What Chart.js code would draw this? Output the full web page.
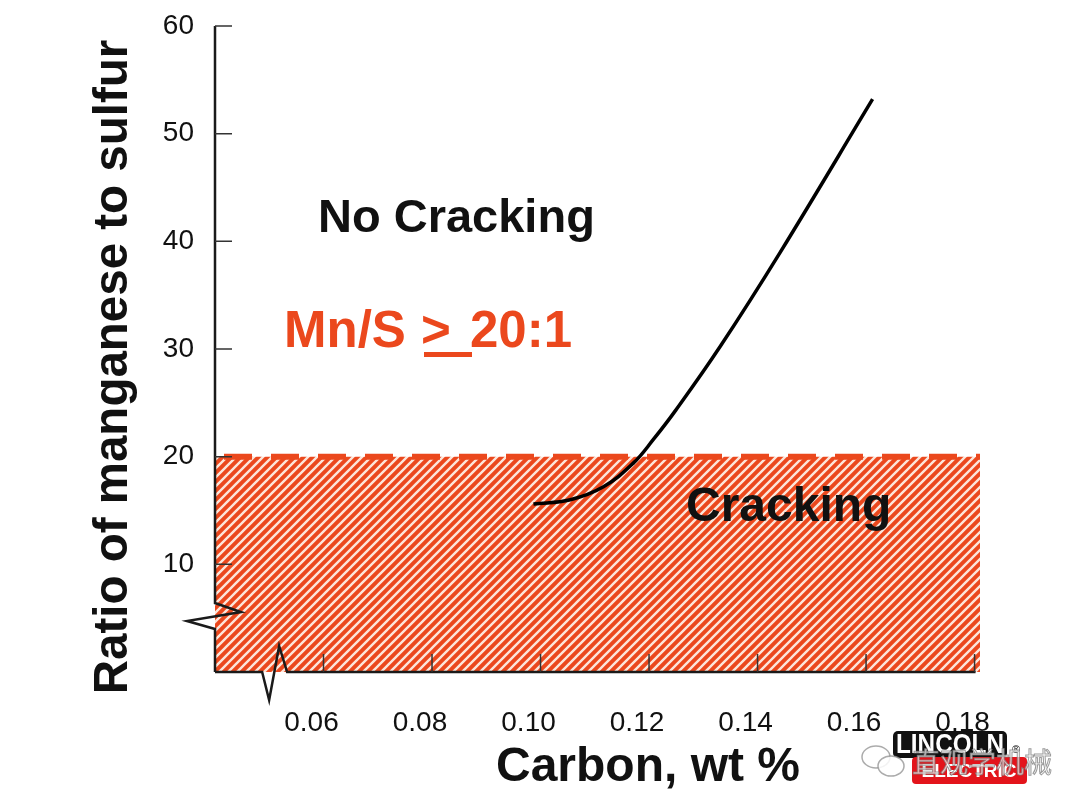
<!DOCTYPE html>
<html>
<head>
<meta charset="utf-8">
<script src="https://cdn.jsdelivr.net/npm/chart.js@4.4.1/dist/chart.umd.min.js"></script>
<style>
  html, body { margin: 0; padding: 0; background: #fff; }
  canvas { display: block; }
</style>
</head>
<body>
<canvas id="mnsChart" width="1080" height="810" style="width:1080px;height:810px"></canvas>
<script>
// values
const xTicks = [0.06, 0.08, 0.10, 0.12, 0.14, 0.16, 0.18];
const yTicks = [10, 20, 30, 40, 50, 60];
const carbon = [0.0987, 0.1055, 0.1116, 0.1171, 0.1208, 0.1249, 0.1332, 0.1442, 0.1612];
const mnsRatio = [15.6, 16.0, 17.2, 19.4, 21.6, 24.3, 30.3, 39.0, 53.2];
const limitCarbon = [0.04, 0.181];
const limitRatio = [20, 20];

const RED = "#EB481D";
const FONT = "'Liberation Sans', Arial, Helvetica, sans-serif";

// diagonal hatch for the cracking zone
function makeHatch() {
    const p = 9;
    const c = document.createElement("canvas");
    c.width = p;
    c.height = p;
    const g = c.getContext("2d");
    g.fillStyle = RED;
    g.fillRect(0, 0, p, p);
    g.strokeStyle = "#FCE6DA";
    g.lineWidth = 2.4;
    g.beginPath();
    g.moveTo(-1, p + 1); g.lineTo(p + 1, -1);
    g.moveTo(-2, 2); g.lineTo(2, -2);
    g.moveTo(p - 2, p + 2); g.lineTo(p + 2, p - 2);
    g.stroke();
    return g.createPattern(c, "repeat");
}

const decor = {
    id: "decor",
    afterDatasetsDraw(chart) {
        const { ctx, chartArea, scales } = chart;
        const x = scales.x, y = scales.y;
        const left = chartArea.left, bottom = chartArea.bottom;
        ctx.save();
        ctx.strokeStyle = "#1a1a1a";
        ctx.lineJoin = "miter";

        // y axis with break
        const yb = y.getPixelForValue(5.2);
        ctx.lineWidth = 2.5;
        ctx.beginPath();
        ctx.moveTo(left, chartArea.top);
        ctx.lineTo(left, yb - 13);
        ctx.lineTo(left + 26, yb - 4);
        ctx.lineTo(left - 28, yb + 5);
        ctx.lineTo(left, yb + 13);
        ctx.lineTo(left, bottom);
        ctx.stroke();

        // x axis with break
        const xb = x.getPixelForValue(0.0509);
        ctx.beginPath();
        ctx.moveTo(left, bottom);
        ctx.lineTo(xb - 12, bottom);
        ctx.lineTo(xb - 5, bottom + 28);
        ctx.lineTo(xb + 5, bottom - 26);
        ctx.lineTo(xb + 13, bottom);
        ctx.lineTo(x.getPixelForValue(0.18) + 1, bottom);
        ctx.stroke();

        // inward tick marks
        ctx.lineWidth = 1.5;
        ctx.strokeStyle = "#333";
        ctx.beginPath();
        yTicks.forEach(v => {
            const py = y.getPixelForValue(v);
            ctx.moveTo(left, py);
            ctx.lineTo(left + 17, py);
        });
        xTicks.forEach(v => {
            const px = x.getPixelForValue(v);
            ctx.moveTo(px, bottom);
            ctx.lineTo(px, bottom - 18);
        });
        ctx.stroke();

        // region labels
        ctx.textBaseline = "alphabetic";
        ctx.textAlign = "left";
        ctx.fillStyle = "#111";
        ctx.font = "bold 47px " + FONT;
        ctx.fillText("No Cracking", 318, 232);
        ctx.font = "bold 48px " + FONT;
        ctx.fillText("Cracking", 686, 521);

        ctx.fillStyle = RED;
        ctx.font = "bold 51px " + FONT;
        ctx.fillText("Mn/S", 284, 347);
        ctx.fillText(">", 421, 347);
        ctx.fillText("20:1", 470, 347);
        ctx.fillRect(424, 352, 48, 5);

        // axis titles
        ctx.fillStyle = "#111";
        ctx.textAlign = "center";
        ctx.font = "bold 48px " + FONT;
        ctx.fillText("Carbon, wt %", 648, 781);
        ctx.save();
        ctx.translate(127, 367);
        ctx.rotate(-Math.PI / 2);
        ctx.font = "bold 47.5px " + FONT;
        ctx.fillText("Ratio of manganese to sulfur", 0, 0);
        ctx.restore();
        ctx.restore();
    },
    afterDraw(chart) {
        const ctx = chart.ctx;
        ctx.save();
        // logo
        ctx.fillStyle = "#111";
        ctx.beginPath();
        ctx.roundRect(893, 731, 114, 27, 5);
        ctx.fill();
        ctx.fillStyle = "#E3141B";
        ctx.beginPath();
        ctx.roundRect(912, 757, 115, 27, 4);
        ctx.fill();
        ctx.fillStyle = "#fff";
        ctx.textAlign = "center";
        ctx.textBaseline = "middle";
        ctx.font = "bold 27px 'Liberation Sans Narrow', " + FONT;
        ctx.fillText("LINCOLN", 950, 746, 108);
        ctx.font = "bold 19px " + FONT;
        ctx.fillText("ELECTRIC", 969, 772, 104);
        ctx.fillStyle = "#111";
        ctx.font = "11px " + FONT;
        ctx.fillText("\u00AE", 1016, 750);

        // watermark
        ctx.strokeStyle = "rgba(150,150,150,0.8)";
        ctx.lineWidth = 1.5;
        ctx.beginPath();
        ctx.ellipse(876, 757, 14, 11, 0, 0, Math.PI * 2);
        ctx.stroke();
        ctx.fillStyle = "rgba(255,255,255,0.85)";
        ctx.beginPath();
        ctx.ellipse(891, 766, 13, 10, 0, 0, Math.PI * 2);
        ctx.fill();
        ctx.stroke();
        ctx.font = "28px 'Noto Sans CJK SC', sans-serif";
        ctx.textAlign = "left";
        ctx.textBaseline = "alphabetic";
        ctx.fillStyle = "rgba(255,255,255,0.7)";
        ctx.fillText("直观学机械", 912, 773);
        ctx.lineWidth = 1;
        ctx.strokeStyle = "rgba(120,120,120,0.75)";
        ctx.strokeText("直观学机械", 912, 773);
        ctx.restore();
    }
};

const ctxMns = document.getElementById("mnsChart").getContext("2d");
const mnsChart = new Chart(ctxMns, {
    type: "line",
    data: {
        datasets: [
            {
                // Mn/S boundary curve
                data: carbon.map((c, i) => ({ x: c, y: mnsRatio[i] })),
                borderColor: "#000",
                borderWidth: 3.5,
                pointRadius: 0,
                tension: 0.4,
                fill: false,
                order: 0
            },
            {
                // cracking zone below 20:1
                data: limitCarbon.map((c, i) => ({ x: c, y: limitRatio[i] })),
                borderColor: RED,
                borderWidth: 6,
                borderDash: [28, 19],
                borderDashOffset: -9,
                backgroundColor: makeHatch(),
                fill: "origin",
                pointRadius: 0,
                order: 1
            }
        ]
    },
    options: {
        responsive: false,
        animation: false,
        devicePixelRatio: 1,
        layout: { padding: { top: 26, right: 100, left: 0, bottom: 0 } },
        plugins: {
            legend: { display: false },
            tooltip: { enabled: false }
        },
        scales: {
            x: {
                type: "linear",
                min: 0.04,
                max: 0.181,
                afterBuildTicks: s => { s.ticks = xTicks.map(v => ({ value: v })); },
                afterFit: s => { s.height = 138; },
                grid: { display: false, drawTicks: false },
                border: { display: false },
                ticks: {
                    autoSkip: false,
                    maxRotation: 0,
                    padding: 34,
                    labelOffset: -12,
                    color: "#111",
                    font: { family: FONT, size: 28 },
                    callback: v => v.toFixed(2)
                }
            },
            y: {
                min: 0,
                max: 60,
                afterBuildTicks: s => { s.ticks = yTicks.map(v => ({ value: v })); },
                afterFit: s => { s.width = 215; s.paddingTop = 0; },
                grid: { display: false, drawTicks: false },
                border: { display: false },
                ticks: {
                    padding: 21,
                    color: "#111",
                    font: { family: FONT, size: 28, lineHeight: 0.8 }
                }
            }
        }
    },
    plugins: [decor]
});
</script>
</body>
</html>
